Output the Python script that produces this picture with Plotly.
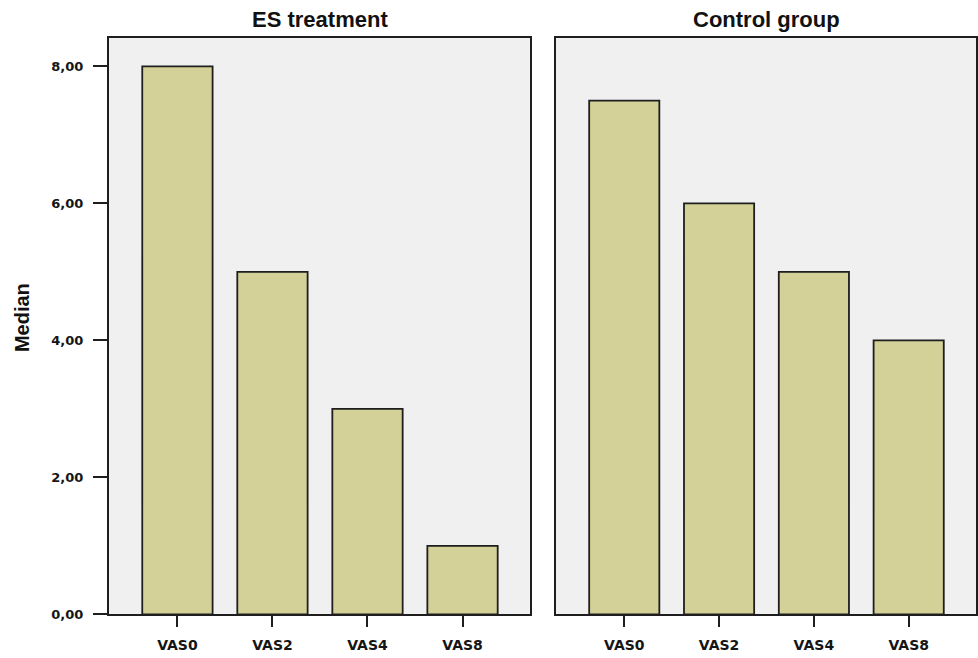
import plotly.graph_objects as go

categories = ["VAS0", "VAS2", "VAS4", "VAS8"]
es_values = [8.0, 5.0, 3.0, 1.0]
control_values = [7.5, 6.0, 5.0, 4.0]
panel_titles = ["ES treatment", "Control group"]
y_ticks = [0, 2, 4, 6, 8]

W, H = 978, 658


def px(xp):
    return xp / W


def py(yp):
    return 1 - yp / H


bar_color = "#d3d197"
edge = "#1e1e1e"
fig = go.Figure()
for i, vals in enumerate([es_values, control_values]):
    sfx = "" if i == 0 else "2"
    fig.add_trace(go.Bar(x=categories, y=vals, xaxis="x" + sfx, yaxis="y" + sfx, width=0.74,
                         marker=dict(color=bar_color, line=dict(color=edge, width=1.8)),
                         showlegend=False, hoverinfo="x+y"))

xtickfont = dict(family="DejaVu Sans", size=14, color="#151515", weight="bold")
ytickfont = dict(family="DejaVu Sans", size=13, color="#151515", weight="bold")
xcommon = dict(type="category", range=[-0.72, 3.71], showline=True, linecolor=edge, linewidth=2,
               mirror=True, ticks="outside", ticklen=11, tickcolor=edge, tickwidth=2,
               tickfont=xtickfont, ticklabelstandoff=6,
               showgrid=False, zeroline=False, fixedrange=True)
ycommon = dict(range=[0, 8.42], showline=True, linecolor=edge, linewidth=2, mirror=True,
               showgrid=False, zeroline=False, tickvals=y_ticks, tickformat=".2f", fixedrange=True)

ydom = [py(622), py(38)]
fig.update_layout(
    width=W, height=H,
    margin=dict(l=0, r=0, t=0, b=0),
    paper_bgcolor="white", plot_bgcolor="#f0f0f0",
    separators=",.",
    xaxis=dict(domain=[px(109), px(530)], anchor="y", **xcommon),
    xaxis2=dict(domain=[px(556), px(976)], anchor="y2", **xcommon),
    yaxis=dict(domain=ydom, anchor="x", ticks="outside", ticklen=14, tickcolor=edge,
               tickwidth=2, tickfont=ytickfont, ticklabelstandoff=7, **ycommon),
    yaxis2=dict(domain=ydom, anchor="x2", showticklabels=False, ticks="", **ycommon),
    annotations=[
        dict(text="<b>" + panel_titles[0] + "</b>", x=px(319.5), y=py(20), xref="paper", yref="paper",
             xanchor="center", yanchor="middle", showarrow=False,
             font=dict(family="Liberation Sans, Arial", size=22, color="#111111")),
        dict(text="<b>" + panel_titles[1] + "</b>", x=px(766), y=py(20), xref="paper", yref="paper",
             xanchor="center", yanchor="middle", showarrow=False,
             font=dict(family="Liberation Sans, Arial", size=22, color="#111111")),
        dict(text="<b>Median</b>", x=px(22), y=py(322), xref="paper", yref="paper",
             xanchor="center", yanchor="middle", showarrow=False, textangle=-90,
             font=dict(family="Liberation Sans Narrow, Liberation Sans, Arial", size=20, color="#111111")),
    ],
)

fig.write_html("out.html", config={"displayModeBar": False},
               post_script="document.body.style.margin='0px';document.body.style.overflow='hidden';")
